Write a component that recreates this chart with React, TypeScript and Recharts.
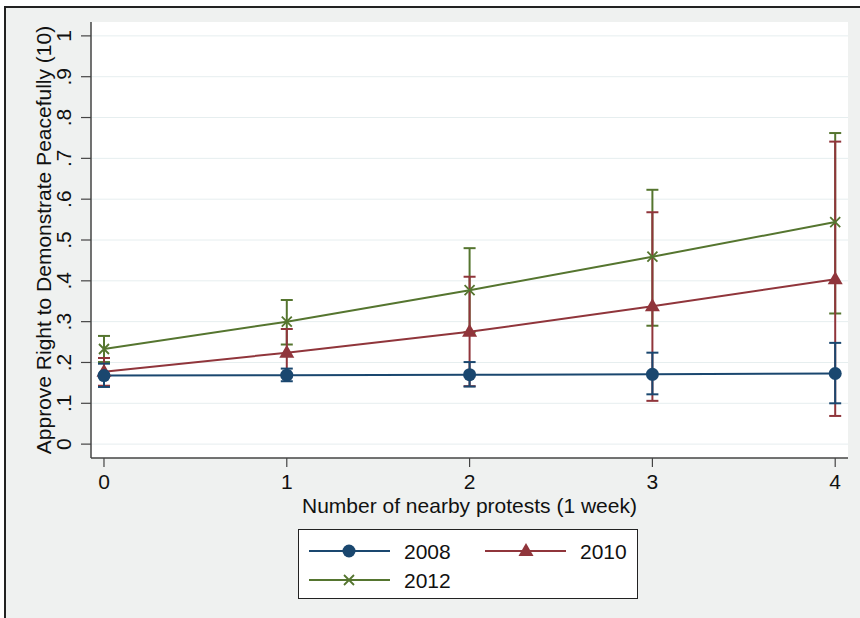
import React from 'react'
import {
  ComposedChart, Line, XAxis, YAxis, CartesianGrid, ErrorBar,
} from 'recharts'

// data (margins plot, 95% CI)
const protests = [0, 1, 2, 3, 4]
const est2008 = [0.168, 0.169, 0.170, 0.171, 0.173]
const lo2008 = [0.140, 0.154, 0.141, 0.122, 0.100]
const hi2008 = [0.197, 0.185, 0.201, 0.224, 0.248]
const est2010 = [0.177, 0.224, 0.275, 0.338, 0.404]
const lo2010 = [0.143, 0.166, 0.142, 0.106, 0.069]
const hi2010 = [0.211, 0.282, 0.410, 0.568, 0.741]
const est2012 = [0.233, 0.300, 0.377, 0.459, 0.544]
const lo2012 = [0.201, 0.244, 0.274, 0.290, 0.320]
const hi2012 = [0.265, 0.353, 0.480, 0.623, 0.762]
const yTicks = [0, 0.1, 0.2, 0.3, 0.4, 0.5, 0.6, 0.7, 0.8, 0.9, 1]

const NAVY = '#1a476f'
const MAROON = '#90353b'
const GREEN = '#55752f'
const FONT = '"Liberation Sans", Arial, Helvetica, sans-serif'
const FS = 21

const data = protests.map((x, i) => ({
  x,
  y2008: est2008[i], e2008: [est2008[i] - lo2008[i], hi2008[i] - est2008[i]],
  y2010: est2010[i], e2010: [est2010[i] - lo2010[i], hi2010[i] - est2010[i]],
  y2012: est2012[i], e2012: [est2012[i] - lo2012[i], hi2012[i] - est2012[i]],
}))

const fmtY = (v: number) => (v === 0 ? '0' : v === 1 ? '1' : String(v).replace(/^0/, ''))

function CircleDot({ cx, cy }: any) {
  if (cx == null || cy == null) return null
  return <circle cx={cx} cy={cy} r={6.5} fill={NAVY} />
}

function TriDot({ cx, cy }: any) {
  if (cx == null || cy == null) return null
  return <path d={`M${cx},${cy - 8} L${cx + 7.5},${cy + 5} L${cx - 7.5},${cy + 5} Z`} fill={MAROON} />
}

function CrossDot({ cx, cy }: any) {
  if (cx == null || cy == null) return null
  const s = 5
  return (
    <path
      d={`M${cx - s},${cy - s} L${cx + s},${cy + s} M${cx - s},${cy + s} L${cx + s},${cy - s}`}
      stroke={GREEN} strokeWidth={1.8} fill="none"
    />
  )
}

function YTick({ x, y, payload }: any) {
  return (
    <text x={x} y={y} transform={`rotate(-90, ${x}, ${y})`} textAnchor="middle"
      fontSize={FS} fontFamily={FONT} fill="#111">
      {fmtY(payload.value)}
    </text>
  )
}

function YTitle({ viewBox }: any) {
  const x = viewBox.x + 46
  const y = viewBox.y + viewBox.height / 2
  return (
    <text x={x} y={y} transform={`rotate(-90, ${x}, ${y})`} textAnchor="middle"
      fontSize={FS} fontFamily={FONT} fill="#111">
      Approve Right to Demonstrate Peacefully (10)
    </text>
  )
}

function LegendBox() {
  const item = (lx: number, ly: number, color: string, label: string, marker: React.ReactNode) => (
    <g key={label}>
      <line x1={lx} y1={ly} x2={lx + 81} y2={ly} stroke={color} strokeWidth={2} />
      {marker}
      <text x={lx + 95} y={ly + 7.5} fontSize={FS} fontFamily={FONT} fill="#111">{label}</text>
    </g>
  )
  return (
    <div style={{
      position: 'absolute', left: 298, top: 529, width: 338, height: 68,
      background: '#fff', border: '1px solid #222',
    }}>
      <svg width={338} height={68}>
        {item(10, 21, NAVY, '2008', <CircleDot cx={50} cy={21} />)}
        {item(186, 21, MAROON, '2010', <TriDot cx={227} cy={21} />)}
        {item(10, 50, GREEN, '2012', <CrossDot cx={50} cy={50} />)}
      </svg>
    </div>
  )
}

export default function App() {
  return (
    <div style={{ position: 'absolute', left: 0, top: 0, width: 860, height: 618, background: '#fff', overflow: 'hidden' }}>
      <div style={{
        position: 'absolute', left: 4, top: 6, width: 860, height: 620,
        background: '#eff1f0', borderLeft: '2px solid #222', borderTop: '2px solid #222',
      }} />
      <div style={{ position: 'absolute', left: 0, top: 0 }}>
        <ComposedChart width={860} height={618} data={data}
          margin={{ top: 22, right: 12, left: 5, bottom: 105 }}>
          <CartesianGrid vertical={false} stroke="#e6eeef" fill="#fff" horizontalValues={yTicks} />
          <XAxis
            dataKey="x" type="number" domain={[-0.071, 4.07]} ticks={protests} allowDataOverflow
            height={55} tickSize={9} tickMargin={7}
            axisLine={{ stroke: '#444', strokeWidth: 1.5 }} tickLine={{ stroke: '#444', strokeWidth: 1.2 }}
            tick={{ fontSize: FS, fontFamily: FONT, fill: '#111' }}
            label={{ value: 'Number of nearby protests (1 week)', position: 'insideBottom', offset: 0, fontSize: FS, fontFamily: FONT, fill: '#111' }}
          />
          <YAxis
            type="number" domain={[-0.034, 1.034]} ticks={yTicks} allowDataOverflow
            width={86} tickSize={10} tickMargin={10}
            axisLine={{ stroke: '#444', strokeWidth: 1.5 }} tickLine={{ stroke: '#444', strokeWidth: 1.2 }}
            tick={<YTick />}
            label={{ content: <YTitle /> }}
          />
          <Line dataKey="y2012" stroke={GREEN} strokeWidth={2} dot={<CrossDot />} activeDot={false} isAnimationActive={false}>
            <ErrorBar dataKey="e2012" direction="y" width={6} stroke={GREEN} strokeWidth={2} isAnimationActive={false} />
          </Line>
          <Line dataKey="y2010" stroke={MAROON} strokeWidth={2} dot={<TriDot />} activeDot={false} isAnimationActive={false}>
            <ErrorBar dataKey="e2010" direction="y" width={6} stroke={MAROON} strokeWidth={2} isAnimationActive={false} />
          </Line>
          <Line dataKey="y2008" stroke={NAVY} strokeWidth={2} dot={<CircleDot />} activeDot={false} isAnimationActive={false}>
            <ErrorBar dataKey="e2008" direction="y" width={6} stroke={NAVY} strokeWidth={2} isAnimationActive={false} />
          </Line>
        </ComposedChart>
      </div>
      <LegendBox />
    </div>
  )
}
